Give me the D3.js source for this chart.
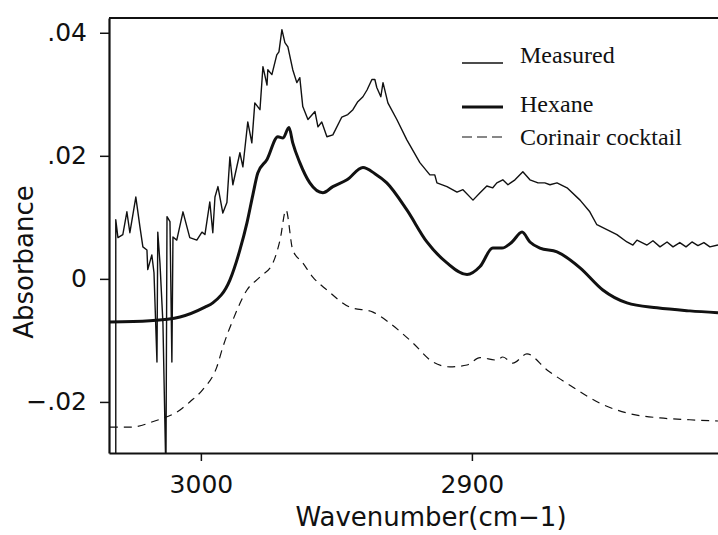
<!DOCTYPE html>
<html>
<head>
<meta charset="utf-8">
<script src="https://cdn.jsdelivr.net/npm/d3@7"></script>
<style>
  body { margin: 0; background: #fff; }
  svg { display: block; }
</style>
</head>
<body>
<svg id="svg" width="718" height="535"></svg>
<script>
// 数据：波数 (cm-1) 与吸光度
const measuredWn = [3031.4, 3031.4, 3030.6, 3028.8, 3027.3, 3026.2, 3024.0, 3022.5, 3021.4, 3019.9,
  3019.6, 3018.1, 3017.3, 3016.2, 3015.9, 3015.1, 3014.0, 3012.9, 3012.5, 3011.4,
  3010.7, 3010.3, 3008.9, 3006.6, 3004.1, 3001.5, 2999.6, 2998.5, 2996.7, 2995.6,
  2994.8, 2993.7, 2991.9, 2990.4, 2989.3, 2988.2, 2985.6, 2984.5, 2982.7, 2981.2,
  2980.1, 2978.2, 2977.1, 2975.6, 2975.3, 2973.8, 2972.0, 2971.2, 2970.1, 2969.0,
  2967.9, 2966.1, 2964.6, 2963.5, 2962.4, 2960.5, 2957.9, 2956.8, 2955.4, 2953.5,
  2951.3, 2948.0, 2945.8, 2943.9, 2942.1, 2940.2, 2938.7, 2936.9, 2935.8, 2935.1,
  2933.6, 2932.8, 2931.0, 2927.7, 2924.0, 2919.2, 2915.5, 2913.7, 2912.9, 2909.2,
  2905.5, 2903.3, 2899.6, 2897.0, 2894.5, 2892.3, 2890.8, 2888.6, 2886.7, 2884.1,
  2881.2, 2878.6, 2875.6, 2873.1, 2871.2, 2868.6, 2864.9, 2860.1, 2856.5, 2853.9,
  2850.2, 2846.5, 2842.8, 2840.6, 2839.1, 2835.4, 2833.2, 2830.6, 2828.0, 2825.8,
  2823.3, 2821.0, 2818.8, 2816.6, 2814.4, 2812.2, 2809.2];
const measuredAbs = [-0.032, 0.0096, 0.0067, 0.0072, 0.0109, 0.0075, 0.0133, 0.0085, 0.0052, 0.0047,
  0.0015, 0.0039, 0.0010, -0.0135, 0.0076, 0.0026, -0.0072, -0.032, 0.0101, 0.0093,
  -0.0135, 0.0068, 0.0063, 0.0109, 0.0067, 0.0063, 0.0076, 0.0072, 0.0125, 0.0075,
  0.0133, 0.0150, 0.0107, 0.0124, 0.0198, 0.0153, 0.0205, 0.0182, 0.0255, 0.0221,
  0.0286, 0.0275, 0.0345, 0.0315, 0.0340, 0.0332, 0.0364, 0.0369, 0.0405, 0.0384,
  0.0377, 0.0340, 0.0319, 0.0327, 0.0280, 0.0259, 0.0272, 0.0247, 0.0255, 0.0231,
  0.0234, 0.0263, 0.0267, 0.0275, 0.0288, 0.0296, 0.0307, 0.0324, 0.0324, 0.0311,
  0.0296, 0.0319, 0.0286, 0.0259, 0.0226, 0.0189, 0.0169, 0.0169, 0.0156, 0.0150,
  0.0141, 0.0145, 0.0128, 0.0140, 0.0151, 0.0148, 0.0156, 0.0161, 0.0153, 0.0161,
  0.0174, 0.0161, 0.0156, 0.0156, 0.0153, 0.0156, 0.0148, 0.0128, 0.0109, 0.0088,
  0.0080, 0.0072, 0.0060, 0.0055, 0.0063, 0.0055, 0.0062, 0.0052, 0.0060, 0.0052,
  0.0059, 0.0052, 0.0060, 0.0054, 0.0059, 0.0052, 0.0055];

const hexaneWn = [3033.6, 3018.8, 3007.7, 2998.5, 2995.6, 2989.3, 2985.6, 2983.0, 2980.8, 2979.0,
  2975.6, 2971.6, 2969.7, 2967.5, 2966.1, 2963.5, 2959.8, 2955.0, 2951.3, 2946.1,
  2940.2, 2935.8, 2931.4, 2924.0, 2916.6, 2909.2, 2901.8, 2897.0, 2892.3, 2888.9,
  2885.2, 2881.5, 2878.6, 2874.9, 2868.6, 2860.1, 2851.7, 2842.8, 2831.7, 2819.6, 2809.2];
const hexaneAbs = [-0.0070, -0.0068, -0.0062, -0.0046, -0.0039, -0.0002, 0.0047, 0.0091, 0.0137, 0.0172,
  0.0194, 0.0231, 0.0229, 0.0246, 0.0221, 0.0189, 0.0156, 0.0140, 0.0150, 0.0161,
  0.0181, 0.0171, 0.0156, 0.0112, 0.0060, 0.0026, 0.0007, 0.0020, 0.0050, 0.0050,
  0.0060, 0.0076, 0.0060, 0.0050, 0.0044, 0.0018, -0.0018, -0.0039, -0.0047, -0.0052, -0.0055];

const corinairWn = [3033.6, 3026.2, 3017.0, 3007.7, 3004.1, 2999.3, 2994.1, 2991.9, 2988.2, 2983.0,
  2978.2, 2973.4, 2970.8, 2968.6, 2966.1, 2962.4, 2958.7, 2953.5, 2945.0, 2936.5,
  2930.3, 2921.8, 2914.4, 2908.1, 2901.8, 2897.0, 2890.8, 2888.6, 2884.9, 2879.7,
  2872.3, 2862.7, 2852.8, 2842.8, 2830.6, 2819.6, 2809.2];
const corinairAbs = [-0.0241, -0.0241, -0.0231, -0.0213, -0.0200, -0.0180, -0.0143, -0.0111, -0.0067, -0.0018,
  0.0003, 0.0026, 0.0063, 0.0112, 0.0047, 0.0026, 0.0003, -0.0018, -0.0046, -0.0054,
  -0.0072, -0.0104, -0.0135, -0.0143, -0.0140, -0.0128, -0.0132, -0.0127, -0.0137, -0.0122,
  -0.0148, -0.0176, -0.0202, -0.0218, -0.0226, -0.0229, -0.0231];

// 刻度
const yTicks = [0.04, 0.02, 0, -0.02];
const yTickLabels = [".04", ".02", "0", "\u2212.02"];
const xTicks = [3000, 2900];
const seriesNames = ["Measured", "Hexane", "Corinair cocktail"];

// 画布布局
const plot = { left: 109, right: 718, top: 18, bottom: 453 };
const sansFont = "'DejaVu Sans', sans-serif";
const serifFont = "'Liberation Serif', 'Times New Roman', serif";

const svg = d3.select("#svg");
const g = svg.append("g");

// 波数轴反向
const x = d3.scaleLinear().domain([3033.9, 2809.2]).range([plot.left, plot.right]);
const y = d3.scaleLinear().domain([-0.0283, 0.0424]).range([plot.bottom, plot.top]);

svg.append("defs").append("clipPath").attr("id", "clip")
  .append("rect")
  .attr("x", plot.left).attr("y", plot.top)
  .attr("width", plot.right - plot.left).attr("height", plot.bottom - plot.top);

const zip = (wn, ab) => wn.map((w, i) => [w, ab[i]]);
const lineLin = d3.line().x(d => x(d[0])).y(d => y(d[1]));
const lineSmooth = d3.line().x(d => x(d[0])).y(d => y(d[1])).curve(d3.curveMonotoneX);

const curves = g.append("g").attr("clip-path", "url(#clip)");

// Corinair cocktail (虚线)
curves.append("path")
  .attr("d", lineSmooth(zip(corinairWn, corinairAbs)))
  .attr("fill", "none").attr("stroke", "#111")
  .attr("stroke-width", 1.2).attr("stroke-dasharray", "8,6");

// Hexane (粗线)
curves.append("path")
  .attr("d", lineSmooth(zip(hexaneWn, hexaneAbs)))
  .attr("fill", "none").attr("stroke", "#111")
  .attr("stroke-width", 3).attr("stroke-linejoin", "round");

// Measured (细线)
curves.append("path")
  .attr("d", lineLin(zip(measuredWn, measuredAbs)))
  .attr("fill", "none").attr("stroke", "#111")
  .attr("stroke-width", 1.4).attr("stroke-linejoin", "round");

// 坐标轴
const yAxis = d3.axisLeft(y).tickValues(yTicks)
  .tickFormat((d, i) => yTickLabels[i]).tickSize(9).tickSizeOuter(0).tickPadding(13);
const yAxisG = g.append("g").attr("transform", `translate(${plot.left},0)`).call(yAxis);

const xAxis = d3.axisBottom(x).tickValues(xTicks)
  .tickFormat(d3.format("d")).tickSize(8).tickSizeOuter(0).tickPadding(14);
const xAxisG = g.append("g").attr("transform", `translate(0,${plot.bottom})`).call(xAxis);

[yAxisG, xAxisG].forEach(a => {
  a.select(".domain").attr("stroke", "#111").attr("stroke-width", 2.2);
  a.selectAll(".tick line").attr("stroke", "#111").attr("stroke-width", 1.5);
  a.selectAll(".tick text").attr("fill", "#111")
    .style("font-family", sansFont).style("font-size", "25px");
});

// 上边框
g.append("line")
  .attr("x1", plot.left).attr("x2", plot.right)
  .attr("y1", plot.top).attr("y2", plot.top)
  .attr("stroke", "#111").attr("stroke-width", 2);

// 轴标题
g.append("text")
  .attr("transform", "translate(33,262) rotate(-90)")
  .attr("text-anchor", "middle").attr("fill", "#111")
  .style("font-family", sansFont).style("font-size", "26px")
  .text("Absorbance");

g.append("text")
  .attr("x", 431).attr("y", 526)
  .attr("text-anchor", "middle").attr("fill", "#111")
  .style("font-family", sansFont).style("font-size", "26px")
  .text("Wavenumber(cm\u22121)");

// 图例
const legend = [
  { name: seriesNames[0], y: 63, width: 1.3, dash: null, ty: 63 },
  { name: seriesNames[1], y: 107, width: 3, dash: null, ty: 112 },
  { name: seriesNames[2], y: 137, width: 1.2, dash: "10,5", ty: 145 }
];
legend.forEach(l => {
  g.append("line")
    .attr("x1", 462).attr("x2", 503).attr("y1", l.y).attr("y2", l.y)
    .attr("stroke", "#111").attr("stroke-width", l.width)
    .attr("stroke-dasharray", l.dash);
  g.append("text")
    .attr("x", 520).attr("y", l.ty).attr("fill", "#111")
    .style("font-family", serifFont).style("font-size", "24px")
    .text(l.name);
});
</script>
</body>
</html>
